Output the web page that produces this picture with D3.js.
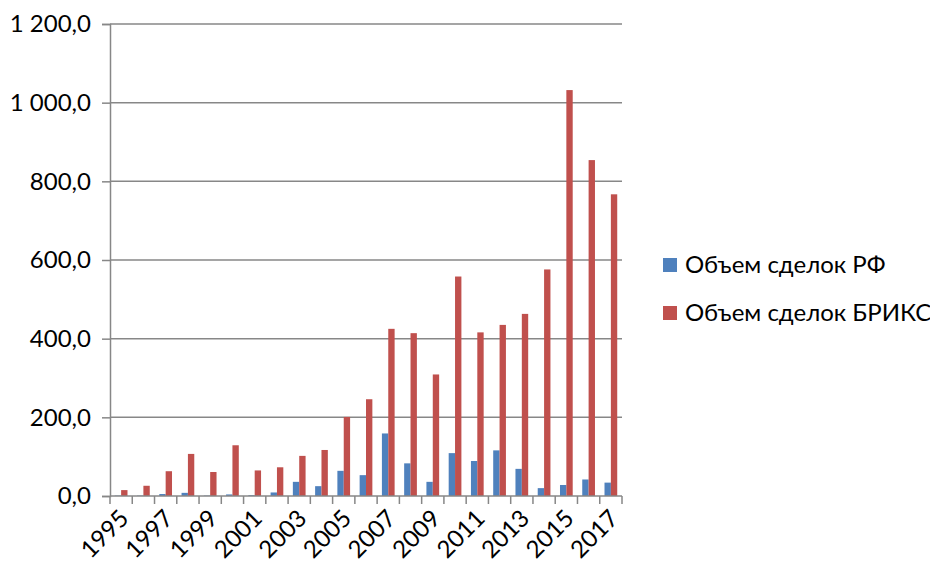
<!DOCTYPE html>
<html>
<head>
<meta charset="utf-8">
<script src="https://cdn.jsdelivr.net/npm/d3@7"></script>
<style>
  html, body { margin: 0; padding: 0; background: #fff; }
  svg { display: block; font-family: Lato, "Open Sans", sans-serif; }
</style>
</head>
<body>
<svg id="chart" width="930" height="564"></svg>
<script>
// Deal volumes by year
const years = ["1995","1996","1997","1998","1999","2000","2001","2002","2003","2004","2005","2006",
               "2007","2008","2009","2010","2011","2012","2013","2014","2015","2016","2017"];
const volumeRF =    [1, 1, 5, 8, 1, 4, 2, 9, 36, 25, 64, 53, 159, 83, 36, 109, 89, 116, 69, 20, 28, 42, 34];
const volumeBRICS = [15, 26, 63, 107, 61, 129, 65, 73, 102, 117, 201, 246, 425, 414, 309, 558, 416, 435, 463, 576, 1032, 854, 767];
const seriesNames = ["Объем сделок РФ", "Объем сделок БРИКС"];
const seriesColors = ["#4F81BD", "#C0504D"];
const yTicks = [0, 200, 400, 600, 800, 1000, 1200];

const svg = d3.select("#chart");
const plotLeft = 110, plotRight = 622, plotTop = 24, plotBottom = 496;
const gridColor = "#878787";
const fontSize = 24;

const x = d3.scaleBand().domain(years).range([plotLeft, plotRight]).paddingInner(0).paddingOuter(0);
const y = d3.scaleLinear().domain([0, 1200]).range([plotBottom, plotTop]);

// Two bars per year, gap of 1.5 bar widths shared at the band edges
const barW = x.bandwidth() / 3.5;
const sub = d3.scaleBand().domain([0, 1]).range([0.75 * barW, 2.75 * barW]);

const fmt = v => {
  const s = d3.format(",.1f")(v);
  return s.replace(/,/g, " ").replace(".", ",");
};

// horizontal gridlines
svg.append("g")
  .selectAll("line")
  .data(yTicks.filter(d => d > 0))
  .join("line")
  .attr("x1", plotLeft).attr("x2", plotRight)
  .attr("y1", d => y(d)).attr("y2", d => y(d))
  .attr("stroke", gridColor).attr("stroke-width", 1.5);

// y axis
const yAxis = svg.append("g")
  .attr("transform", `translate(${plotLeft},0)`)
  .call(d3.axisLeft(y).tickValues(yTicks).tickFormat(fmt).tickSize(8).tickPadding(11));
yAxis.select(".domain").attr("stroke", gridColor).attr("stroke-width", 1.5);
yAxis.selectAll(".tick line").attr("stroke", gridColor).attr("stroke-width", 1.5);
yAxis.selectAll("text").attr("font-size", fontSize).attr("fill", "#000")
  .style("font-family", "Lato, 'Open Sans', sans-serif");

// bars
const series = [volumeRF, volumeBRICS];
series.forEach((vals, si) => {
  svg.append("g")
    .selectAll("rect")
    .data(vals)
    .join("rect")
    .attr("x", (d, i) => x(years[i]) + sub(si))
    .attr("width", sub.bandwidth())
    .attr("y", d => y(d))
    .attr("height", d => plotBottom - y(d))
    .attr("fill", seriesColors[si]);
});

// x axis with ticks at band boundaries
const xg = svg.append("g");
xg.append("line")
  .attr("x1", plotLeft).attr("x2", plotRight)
  .attr("y1", plotBottom).attr("y2", plotBottom)
  .attr("stroke", gridColor).attr("stroke-width", 1.5);
xg.selectAll("line.tk")
  .data(years.concat(["end"]))
  .join("line")
  .attr("class", "tk")
  .attr("x1", (d, i) => plotLeft + i * x.bandwidth())
  .attr("x2", (d, i) => plotLeft + i * x.bandwidth())
  .attr("y1", plotBottom).attr("y2", plotBottom + 8)
  .attr("stroke", gridColor).attr("stroke-width", 1.5);
xg.selectAll("text")
  .data(years.filter((d, i) => i % 2 === 0))
  .join("text")
  .attr("transform", d => `translate(${x(d) + x.bandwidth() / 2 + 9},${plotBottom + 24}) rotate(-45)`)
  .attr("text-anchor", "end")
  .attr("font-size", fontSize)
  .attr("fill", "#000")
  .text(d => d);

// legend
const legend = svg.append("g");
seriesNames.forEach((name, i) => {
  const ly = 265 + i * 48;
  legend.append("rect")
    .attr("x", 663).attr("y", ly - 7)
    .attr("width", 14).attr("height", 14)
    .attr("fill", seriesColors[i]);
  legend.append("text")
    .attr("x", 685).attr("y", ly)
    .attr("dy", "0.35em")
    .attr("font-size", fontSize)
    .attr("fill", "#000")
    .text(name);
});
</script>
</body>
</html>
